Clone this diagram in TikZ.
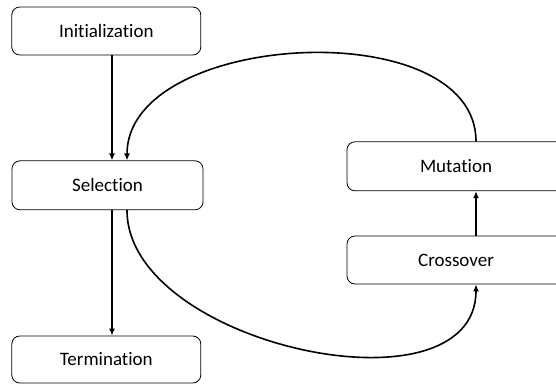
\documentclass[tikz,border=0pt]{standalone}
\usepackage{fontspec}
\setmainfont{Carlito}[RawFeature={-liga}]
\usetikzlibrary{arrows.meta}

\tikzset{
  stage/.style={draw, rounded corners=8pt, line width=0.8pt, minimum height=48pt, font=\fontsize{19}{22}\selectfont},
  flow/.style={line width=1.6pt, -{Latex[length=7pt,width=6pt]}}
}

\begin{document}
\begin{tikzpicture}[x=1pt,y=-1pt]
                \useasboundingbox (0,0) rectangle (556,386);
                % left column
                \node[stage, minimum width=189pt] (init) at (106.3,31) {Initialization};
                \node[stage, minimum width=191pt, minimum height=49pt] (sel) at (107.5,185.3) {Selection};
                \node[stage, minimum width=189pt, minimum height=47pt] (term) at (106.3,359.5) {Termination};
                % right column
                \node[stage, minimum width=218pt, minimum height=49pt] (mut) at (456,166.3) {Mutation};
                \node[stage, minimum width=218pt] (cross) at (456,260) {Crossover};
                % straight arrows
                \draw[flow] ([xshift=5.7pt]init.south) -- ([xshift=4.5pt]sel.north);
                \draw[flow] ([xshift=4.5pt]sel.south) -- ([xshift=5.7pt]term.north);
                \draw[flow] ([xshift=20pt]cross.north) -- ([xshift=20pt]mut.south);
                % loop
                \draw[flow] ([xshift=20pt]mut.north) to[out=90, in=90, looseness=0.95] ([xshift=19.5pt]sel.north);
                \draw[flow] ([xshift=19.5pt]sel.south) to[out=-90, in=-90, looseness=0.97] ([xshift=20pt]cross.south);
            \end{tikzpicture}
\end{document}
